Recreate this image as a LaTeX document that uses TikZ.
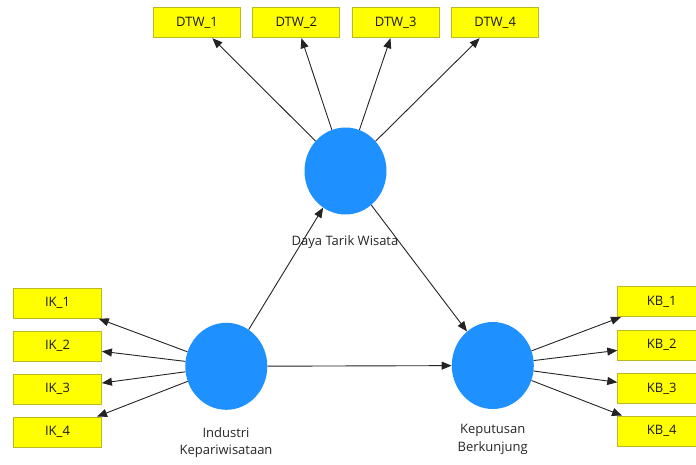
\documentclass[tikz,border=0pt]{standalone}
\usepackage{fontspec}
\setmainfont{Open Sans}
\usetikzlibrary{arrows.meta,shapes.geometric}
\definecolor{boxyellow}{RGB}{255,255,0}
\definecolor{boxedge}{RGB}{185,185,40}
\definecolor{latent}{RGB}{30,144,255}
\definecolor{wire}{RGB}{35,35,35}
\begin{document}
\begin{tikzpicture}[x=1pt,y=-1pt,
  indicator/.style={rectangle,draw=boxedge,fill=boxyellow,line width=0.8pt,
    minimum width=87pt,minimum height=30pt,inner sep=0pt,
    font=\fontsize{13}{15}\selectfont,text=black!90},
  construct/.style={ellipse,fill=latent,minimum width=82pt,minimum height=87pt,inner sep=0pt},
  caption/.style={align=center,font=\fontsize{13}{17.5}\selectfont,text=black!85,inner sep=0pt},
  link/.style={draw=wire,line width=0.9pt,-{Triangle[length=10pt,width=8pt]}}
]
\useasboundingbox (0,0) rectangle (696,464);

% latent constructs
\node[construct] (dtw) at (345.5,171) {};
\node[construct] (ik)  at (226.3,366.3) {};
\node[construct] (kb)  at (492.8,365.5) {};

% indicators of Daya Tarik Wisata
\node[indicator] (dtw1) at (197,22.8)   {DTW\_1};
\node[indicator] (dtw2) at (296.3,22.8) {DTW\_2};
\node[indicator] (dtw3) at (395.7,22.8) {DTW\_3};
\node[indicator] (dtw4) at (495.2,22.8) {DTW\_4};

% indicators of Industri Kepariwisataan
\node[indicator,minimum width=88pt] (ik1) at (57.5,303.3) {IK\_1};
\node[indicator,minimum width=88pt] (ik2) at (57.5,346)   {IK\_2};
\node[indicator,minimum width=88pt] (ik3) at (57.5,389)   {IK\_3};
\node[indicator,minimum width=88pt] (ik4) at (57.5,432)   {IK\_4};

% indicators of Keputusan Berkunjung
\node[indicator,minimum width=88pt] (kb1) at (661.7,301.7) {KB\_1};
\node[indicator,minimum width=88pt] (kb2) at (661.7,345)   {KB\_2};
\node[indicator,minimum width=88pt] (kb3) at (661.7,388.3) {KB\_3};
\node[indicator,minimum width=88pt] (kb4) at (661.7,431)   {KB\_4};

% outer model
\foreach \i in {1,...,4} {
  \draw[link] (dtw) -- (dtw\i);
  \draw[link] (ik) -- (ik\i);
  \draw[link] (kb) -- (kb\i);
}

% inner model
\draw[link] (ik) -- (dtw);
\draw[link] (ik) -- (kb);
\draw[link] (dtw) -- (kb);

% construct captions
\node[caption,anchor=base] (dtwlabel) at (345,245) {Daya Tarik Wisata};
\node[caption,anchor=north] (iklabel) at (226,427) {Industri\\Kepariwisataan};
\node[caption,anchor=north] (kblabel) at (492.7,424.5) {Keputusan\\Berkunjung};
\end{tikzpicture}
\end{document}
